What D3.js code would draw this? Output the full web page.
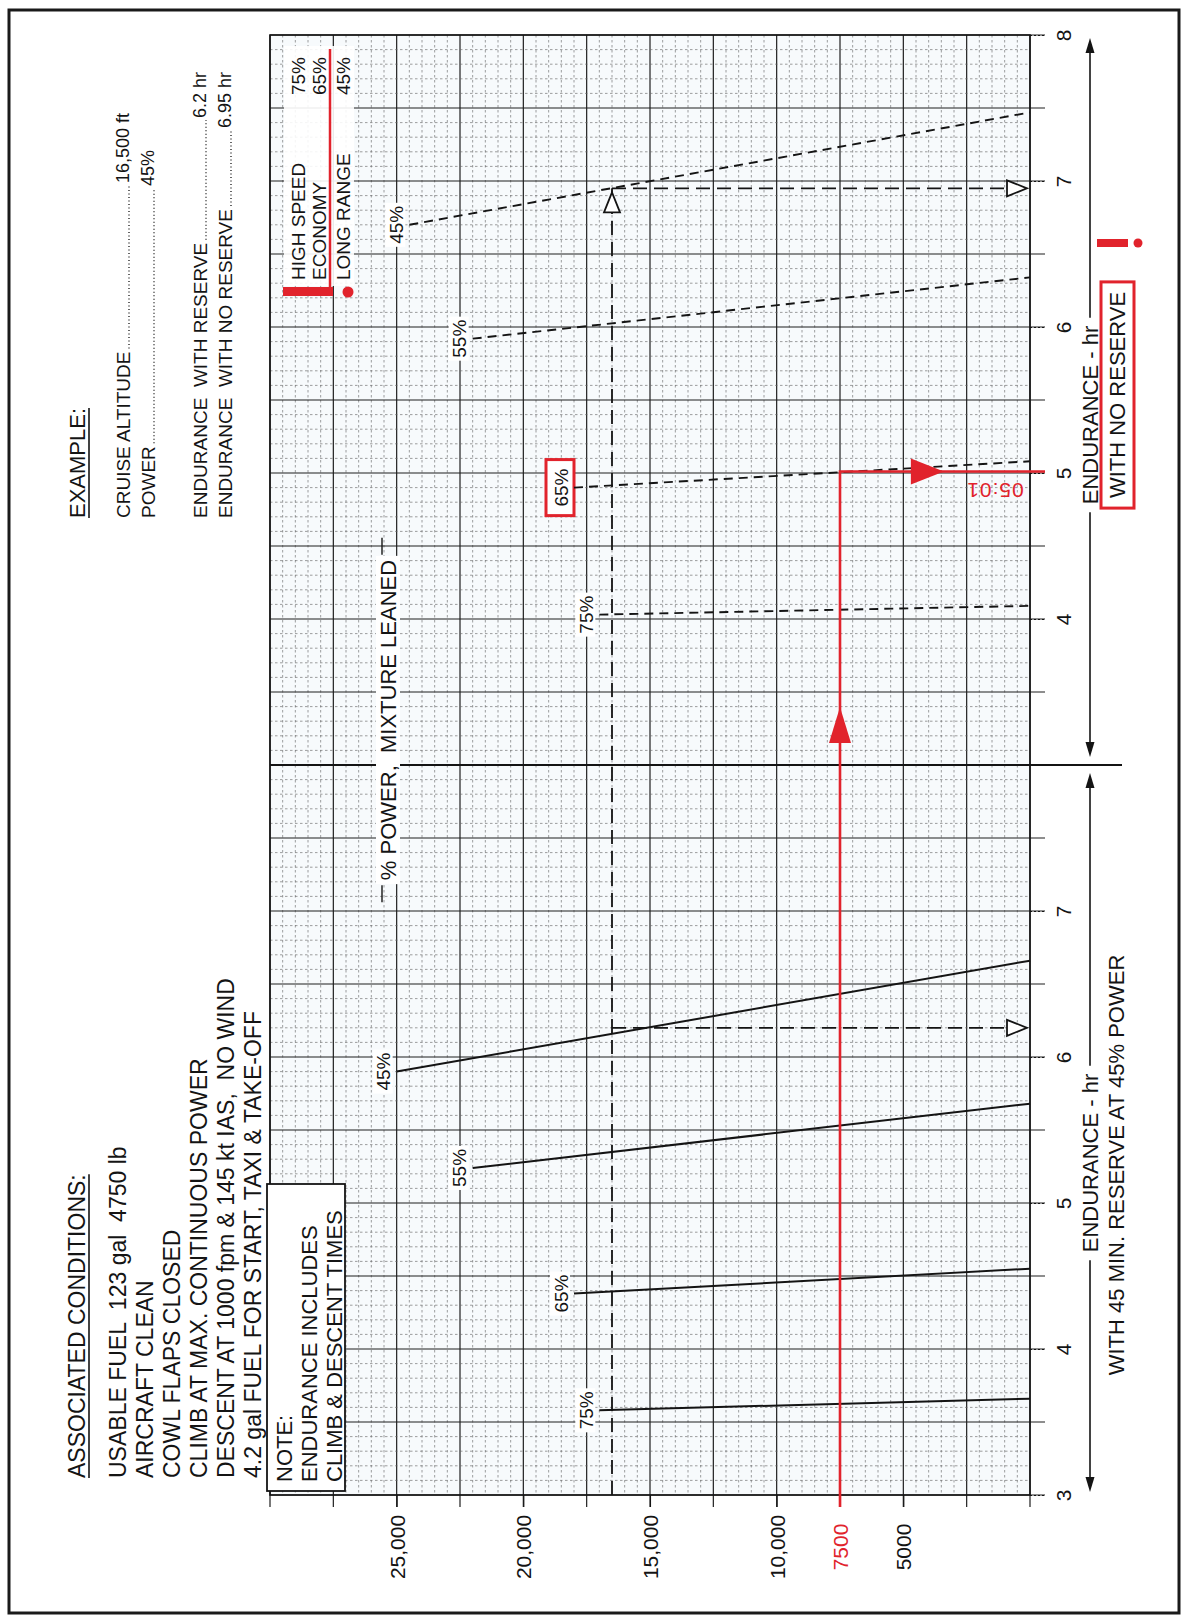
<!DOCTYPE html>
<html>
<head>
<meta charset="utf-8">
<script src="https://cdn.jsdelivr.net/npm/d3@7"></script>
<style>
  html, body { margin: 0; padding: 0; background: #fff; }
  svg text { font-family: "Liberation Sans", Arial, Helvetica, sans-serif; white-space: pre; }
</style>
</head>
<body>
<div id="chart"></div>
<script>
// ---- data ----
const altTicks = [25000, 20000, 15000, 10000, 7500, 5000];
const altTickLabels = ["25,000", "20,000", "15,000", "10,000", "7500", "5000"];
const upperHrTicks = [4, 5, 6, 7, 8];
const lowerHrTicks = [3, 4, 5, 6, 7];
const powerLabels = ["45%", "55%", "65%", "75%"];

// with 45 min reserve (lower panel, solid lines)
const reserveTopAlt = [25000, 22000, 18000, 17000];
const reserveTopHr  = [5.90, 5.24, 4.38, 3.58];
const reserveSeaHr  = [6.66, 5.68, 4.55, 3.66];

// with no reserve (upper panel, dashed lines)
const noResTopAlt = [24500, 22000, 18000, 17000];
const noResTopHr  = [6.70, 5.92, 4.90, 4.03];
const noResSeaHr  = [7.47, 6.34, 5.08, 4.09];

// worked examples
const exampleAlt = 16500;
const exampleWithReserve = 6.2;
const exampleNoReserve = 6.95;
const redAlt = 7500;
const redHr = 5.01;
const redLabel = "05:01";

const conditions = [
  "USABLE FUEL  123 gal  4750 lb",
  "AIRCRAFT CLEAN",
  "COWL FLAPS CLOSED",
  "CLIMB AT MAX. CONTINUOUS POWER",
  "DESCENT AT 1000 fpm & 145 kt IAS,  NO WIND",
  "4.2 gal FUEL FOR START, TAXI & TAKE-OFF"
];
const exampleNames  = ["CRUISE ALTITUDE", "POWER", "ENDURANCE  WITH RESERVE", "ENDURANCE  WITH NO RESERVE"];
const exampleValues = ["16,500 ft", "45%", "6.2 hr", "6.95 hr"];
const noteLines = ["NOTE:", "ENDURANCE INCLUDES", "CLIMB & DESCENT TIMES"];
const legendNames = ["HIGH SPEED", "ECONOMY", "LONG RANGE"];
const legendValues = ["75%", "65%", "45%"];

// ---- layout ----
const W = 1182, H = 1619;
const gridL = 270, gridR = 1030, gridT = 35, sep = 765, gridB = 1495;
const RED = "#e1232c", INK = "#141414";

const svg = d3.select("#chart").append("svg")
  .attr("width", W).attr("height", H)
  .style("display", "block");

svg.append("rect").attr("width", W).attr("height", H).attr("fill", "#fff");
svg.append("rect")
  .attr("x", 9).attr("y", 10).attr("width", 1170).attr("height", 1603)
  .attr("fill", "none").attr("stroke", "#1a1a1a").attr("stroke-width", 3);

// altitude runs along x (chart is printed sideways), endurance along y
const x = d3.scaleLinear().domain([30000, 0]).range([gridL, gridR]);
const yUp = d3.scaleLinear().domain([3, 8]).range([sep, gridT]);
const yLo = d3.scaleLinear().domain([3, 8]).range([gridB, sep]);

// text written bottom-to-top
function vtext(g, px, py, str, size, anchor, color) {
  return g.append("text")
    .attr("transform", `translate(${px},${py}) rotate(-90)`)
    .attr("text-anchor", anchor || "start")
    .attr("dominant-baseline", "central")
    .attr("font-size", size)
    .attr("fill", color || INK)
    .text(str);
}

// graph paper
svg.append("rect")
  .attr("x", gridL).attr("y", gridT)
  .attr("width", gridR - gridL).attr("height", gridB - gridT)
  .attr("fill", "#f7fafc");

const grid = svg.append("g");
const altLines = d3.range(0, 30001, 500);
grid.selectAll("line.v").data(altLines).join("line")
  .attr("class", "v")
  .attr("x1", d => x(d)).attr("x2", d => x(d))
  .attr("y1", gridT)
  .attr("y2", d => d % 2500 === 0 ? gridB + 12 : gridB)
  .attr("stroke", d => d % 2500 === 0 ? "#1e1e1e" : "#6a6a6a")
  .attr("stroke-width", d => d % 2500 === 0 ? 1.2 : 0.65)
  .attr("stroke-dasharray", d => d % 2500 === 0 ? null : "2.5,2.5");

const hrSteps = d3.range(30, 81);
[yUp, yLo].forEach((ys, k) => {
  grid.selectAll("line.h" + k).data(hrSteps).join("line")
    .attr("class", "h" + k)
    .attr("x1", gridL)
    .attr("x2", i => i % 5 === 0 ? gridR + 15 : gridR)
    .attr("y1", i => ys(i / 10)).attr("y2", i => ys(i / 10))
    .attr("stroke", i => i % 5 === 0 ? "#1e1e1e" : "#6a6a6a")
    .attr("stroke-width", i => i % 5 === 0 ? 1.2 : 0.65)
    .attr("stroke-dasharray", i => i % 5 === 0 ? null : "2.5,2.5");
});

svg.append("rect")
  .attr("x", gridL).attr("y", gridT)
  .attr("width", gridR - gridL).attr("height", gridB - gridT)
  .attr("fill", "none").attr("stroke", INK).attr("stroke-width", 1.6);
svg.append("line")
  .attr("x1", gridL).attr("x2", 1122).attr("y1", sep).attr("y2", sep)
  .attr("stroke", INK).attr("stroke-width", 2);

// ---- axes ----
const xAxis = svg.append("g")
  .attr("transform", `translate(0,${gridB})`)
  .call(d3.axisBottom(x).tickValues(altTicks)
    .tickFormat((d, i) => altTickLabels[i]).tickSize(12));
xAxis.select(".domain").remove();
xAxis.selectAll("line").attr("stroke", d => d === redAlt ? RED : INK).attr("stroke-width", 1.1);
xAxis.selectAll("text")
  .attr("y", null).attr("dy", null)
  .attr("transform", "translate(0,52) rotate(-90)")
  .attr("text-anchor", "middle")
  .attr("dominant-baseline", "central")
  .attr("font-size", 21)
  .attr("fill", d => d === redAlt ? RED : INK);

[[yUp, upperHrTicks], [yLo, lowerHrTicks]].forEach(([ys, ticks]) => {
  const a = svg.append("g")
    .attr("transform", `translate(${gridR},0)`)
    .call(d3.axisRight(ys).tickValues(ticks).tickFormat(d3.format("d")).tickSize(16));
  a.select(".domain").remove();
  a.selectAll("line").attr("stroke", INK).attr("stroke-width", 1.1).attr("stroke-dasharray", "2,2");
  a.selectAll("text")
    .attr("x", null).attr("dy", null)
    .attr("transform", "translate(33,0) rotate(-90)")
    .attr("text-anchor", "middle")
    .attr("dominant-baseline", "central")
    .attr("font-size", 21)
    .attr("fill", INK);
});

// ---- power curves ----
const labelG = svg.append("g");
function lineLabel(px, py, str, boxColor) {
  const t = vtext(labelG, px, py, str, 19, "middle");
  const len = t.node().getComputedTextLength();
  const pad = boxColor ? 9 : 3, wid = boxColor ? 28 : 20;
  labelG.insert("rect", () => t.node())
    .attr("x", px - wid / 2 - 1).attr("y", py - len / 2 - pad)
    .attr("width", wid).attr("height", len + 2 * pad)
    .attr("fill", "#fff")
    .attr("stroke", boxColor || "none")
    .attr("stroke-width", boxColor ? 3 : 0);
}

const curves = svg.append("g");
powerLabels.forEach((p, i) => {
  curves.append("line")
    .attr("x1", x(reserveTopAlt[i])).attr("y1", yLo(reserveTopHr[i]))
    .attr("x2", x(0)).attr("y2", yLo(reserveSeaHr[i]))
    .attr("stroke", INK).attr("stroke-width", 2);
  lineLabel(x(reserveTopAlt[i]) - 13, yLo(reserveTopHr[i]), p);

  curves.append("line")
    .attr("x1", x(noResTopAlt[i])).attr("y1", yUp(noResTopHr[i]))
    .attr("x2", x(0)).attr("y2", yUp(noResSeaHr[i]))
    .attr("stroke", INK).attr("stroke-width", 1.9)
    .attr("stroke-dasharray", "9,6");
  lineLabel(x(noResTopAlt[i]) - 13, yUp(noResTopHr[i]), p, p === "65%" ? RED : null);
});

// title across the chart
{
  const tg = svg.append("g");
  const cy = 720;
  const t = vtext(tg, 388, cy, "% POWER,  MIXTURE LEANED", 22, "middle");
  const len = t.node().getComputedTextLength();
  tg.insert("rect", () => t.node())
    .attr("x", 376).attr("y", cy - len / 2 - 4)
    .attr("width", 24).attr("height", len + 8).attr("fill", "#fff");
  [[cy + len / 2 + 5, cy + len / 2 + 22], [cy - len / 2 - 5, cy - len / 2 - 22]].forEach(([a, b]) => {
    tg.append("line").attr("x1", 382).attr("x2", 382).attr("y1", a).attr("y2", b)
      .attr("stroke", INK).attr("stroke-width", 1.4);
  });
}

// ---- black worked example ----
const ex = svg.append("g").attr("stroke", INK).attr("stroke-width", 1.8).attr("fill", "none");
const ex1 = yLo(exampleWithReserve), ex2 = yUp(exampleNoReserve);
ex.append("line").attr("x1", x(exampleAlt)).attr("x2", x(exampleAlt))
  .attr("y1", gridB).attr("y2", ex2).attr("stroke-dasharray", "14,7");
ex.append("line").attr("x1", x(exampleAlt)).attr("x2", gridR - 4)
  .attr("y1", ex1).attr("y2", ex1).attr("stroke-dasharray", "14,7");
ex.append("line").attr("x1", x(exampleAlt)).attr("x2", gridR - 4)
  .attr("y1", ex2).attr("y2", ex2).attr("stroke-dasharray", "14,7");
function openTri(tipX, tipY, dir) {
  const L = 20, h = 8;
  const pts = dir === "up"
    ? [[tipX, tipY], [tipX - h, tipY + L], [tipX + h, tipY + L]]
    : [[tipX, tipY], [tipX - L, tipY - h], [tipX - L, tipY + h]];
  ex.append("path").attr("d", d3.line()(pts) + "Z").attr("fill", "#fff");
}
openTri(x(exampleAlt), ex2 + 4, "up");
openTri(gridR - 3, ex1, "right");
openTri(gridR - 3, ex2, "right");

// ---- red worked example ----
const red = svg.append("g");
const ry = yUp(redHr);
red.append("path")
  .attr("d", d3.line()([[x(redAlt), gridB + 12], [x(redAlt), ry], [gridR + 15, ry]]))
  .attr("fill", "none").attr("stroke", RED).attr("stroke-width", 2.6);
{
  const bx = x(redAlt), by = yUp(3.15);
  red.append("path").attr("d", d3.line()([[bx, by - 36], [bx - 11, by], [bx + 11, by]]) + "Z").attr("fill", RED);
  const tx = x(3400);
  red.append("path").attr("d", d3.line()([[tx, ry], [tx - 33, ry - 13], [tx - 33, ry + 13]]) + "Z").attr("fill", RED);
}
red.append("text")
  .attr("transform", `translate(995,${ry + 19}) rotate(180)`)
  .attr("text-anchor", "middle").attr("dominant-baseline", "central")
  .attr("font-size", 21).attr("letter-spacing", 1).attr("fill", RED)
  .text(redLabel);

// ---- right side captions and arrows ----
function arrowHead(g, tx, ty, dir) {
  const L = 15, h = 4.5;
  const pts = dir === "up"
    ? [[tx, ty], [tx - h, ty + L], [tx + h, ty + L]]
    : [[tx, ty], [tx - h, ty - L], [tx + h, ty - L]];
  g.append("path").attr("d", d3.line()(pts) + "Z").attr("fill", INK);
}
const cap = svg.append("g");
[[gridT + 3, sep - 8, 415], [sep + 8, gridB - 3, 1163]].forEach(([top, bot, mid]) => {
  const t = vtext(cap, 1090, mid, "ENDURANCE - hr", 22, "middle");
  const len = t.node().getComputedTextLength();
  cap.append("line").attr("x1", 1090).attr("x2", 1090).attr("y1", top + 10).attr("y2", mid - len / 2 - 8)
    .attr("stroke", INK).attr("stroke-width", 1.6);
  cap.append("line").attr("x1", 1090).attr("x2", 1090).attr("y1", mid + len / 2 + 8).attr("y2", bot - 10)
    .attr("stroke", INK).attr("stroke-width", 1.6);
  arrowHead(cap, 1090, top, "up");
  arrowHead(cap, 1090, bot, "down");
});
{
  const t = vtext(cap, 1117, 395, "WITH NO RESERVE", 22, "middle");
  const len = t.node().getComputedTextLength();
  cap.append("rect").attr("x", 1101).attr("y", 395 - len / 2 - 10)
    .attr("width", 33).attr("height", len + 20)
    .attr("fill", "none").attr("stroke", RED).attr("stroke-width", 3);
  cap.append("rect").attr("x", 1097).attr("y", 239).attr("width", 31).attr("height", 8).attr("fill", RED);
  cap.append("circle").attr("cx", 1138).attr("cy", 243).attr("r", 4.5).attr("fill", RED);
}
vtext(cap, 1116, 1165, "WITH 45 MIN. RESERVE AT 45% POWER", 22, "middle");

// ---- left text blocks ----
const left = svg.append("g");
const condStart = 1478;
{
  const t = vtext(left, 77, condStart, "ASSOCIATED CONDITIONS:", 23);
  const len = t.node().getComputedTextLength();
  left.append("line").attr("x1", 89).attr("x2", 89).attr("y1", condStart).attr("y2", condStart - len)
    .attr("stroke", INK).attr("stroke-width", 1.6);
}
conditions.forEach((c, i) => vtext(left, 118 + i * 27, condStart, c, 23));

const exStart = 518;
{
  const t = vtext(left, 77, exStart, "EXAMPLE:", 22);
  const len = t.node().getComputedTextLength();
  left.append("line").attr("x1", 89).attr("x2", 89).attr("y1", exStart).attr("y2", exStart - len)
    .attr("stroke", INK).attr("stroke-width", 1.6);
}
const exCols = [123, 148, 200, 225];
const exValueEnd = [113, 150, 72, 72];
exampleNames.forEach((n, i) => {
  const t = vtext(left, exCols[i], exStart, n, 19);
  const len = t.node().getComputedTextLength();
  const v = vtext(left, exCols[i], exValueEnd[i], exampleValues[i], 18, "end");
  const vlen = v.node().getComputedTextLength();
  left.append("line")
    .attr("x1", exCols[i] + 6).attr("x2", exCols[i] + 6)
    .attr("y1", exStart - len - 3).attr("y2", exValueEnd[i] + vlen + 2)
    .attr("stroke", INK).attr("stroke-width", 1.3).attr("stroke-dasharray", "1,2.5");
});

// note box
left.append("rect").attr("x", 267).attr("y", 1184).attr("width", 78).attr("height", 307)
  .attr("fill", "#fff").attr("stroke", INK).attr("stroke-width", 1.8);
noteLines.forEach((s, i) => vtext(left, 284 + i * 25, 1482, s, 22));

// legend of power settings
{
  const lg = svg.append("g");
  lg.append("rect").attr("x", 284).attr("y", 46).attr("width", 70).attr("height", 240)
    .attr("fill", "#fff").attr("opacity", 0.9);
  const cols = [298, 319, 343];
  legendNames.forEach((n, i) => {
    vtext(lg, cols[i], 280, n, 19);
    vtext(lg, cols[i], 57, legendValues[i], 19, "end");
  });
  lg.append("line").attr("x1", 330).attr("x2", 330).attr("y1", 49).attr("y2", 290)
    .attr("stroke", RED).attr("stroke-width", 2.5);
  lg.append("rect").attr("x", 283).attr("y", 287).attr("width", 50).attr("height", 9).attr("fill", RED);
  lg.append("circle").attr("cx", 348).attr("cy", 292).attr("r", 5.5).attr("fill", RED);
}
</script>
</body>
</html>
